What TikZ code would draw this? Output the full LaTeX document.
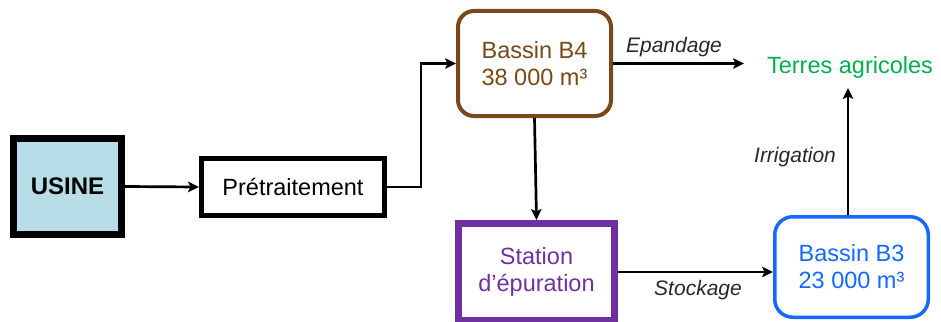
\documentclass[tikz,border=0pt]{standalone}
\usepackage{fontspec}
\setmainfont{Liberation Sans}
\usetikzlibrary{arrows.meta}
\definecolor{usinefill}{RGB}{183,222,232}
\definecolor{bbrown}{RGB}{120,72,24}
\definecolor{bpurple}{RGB}{112,48,160}
\definecolor{bblue}{RGB}{20,105,255}
\definecolor{tgreen}{RGB}{0,176,80}
\definecolor{lblgray}{RGB}{40,40,40}
\begin{document}
\begin{tikzpicture}[x=1pt,y=-1pt,
  boxtext/.style={font=\fontsize{23.5}{27}\selectfont, align=center, inner sep=0pt},
  arr/.style={line width=2.7pt, -{Stealth[length=11pt,width=10.5pt,inset=2.5pt]}},
  lbl/.style={font=\fontsize{21}{24}\selectfont\itshape, text=lblgray, inner sep=0pt}]
\useasboundingbox (0,0) rectangle (941,321);

\node[boxtext, draw=black, line width=7pt, fill=usinefill,
      minimum width=108pt, minimum height=96pt, font=\fontsize{24}{27}\selectfont\bfseries]
      (usine) at (67.5,186.5) {USINE};
\node[boxtext, draw=black, line width=5pt, fill=white,
      minimum width=183pt, minimum height=57pt] (pre) at (293,187) {Prétraitement};
\node[boxtext, draw=bbrown, text=bbrown, line width=4pt, rounded corners=16pt,
      minimum width=153pt, minimum height=105pt] (b4) at (534.5,63.5) {Bassin B4\\38 000 m³};
\node[boxtext, draw=bpurple, text=bpurple, line width=7pt,
      minimum width=156pt, minimum height=97pt] (station) at (536.5,272) {Station\\d’épuration};
\node[boxtext, draw=bblue, text=bblue, line width=3.5pt, rounded corners=18pt,
      minimum width=153.5pt, minimum height=100.5pt] (b3) at (851.5,267) {Bassin B3\\23 000 m³};
\node[boxtext, text=tgreen] (terres) at (850,67) {Terres agricoles};

\coordinate (bend) at (421,187);
\coordinate (eptip) at (744,63.5);
\coordinate (irrtip) at (848,88);

\draw[arr] (usine.east) -- (pre.west);
\draw[arr] (pre.east) -- (bend) |- (b4.west);
\draw[arr] (b4.south) -- (station.north);
\draw[arr] (b4.east) -- (eptip);
\draw[arr] (station.east) -- (b3.west |- station.east);
\draw[arr] (b3.north -| irrtip) -- (irrtip);

\node[lbl] (lep) at (674,47) {Epandage};
\node[lbl] (lst) at (698,290) {Stockage};
\node[lbl] (lir) at (795,157) {Irrigation};
\end{tikzpicture}
\end{document}
